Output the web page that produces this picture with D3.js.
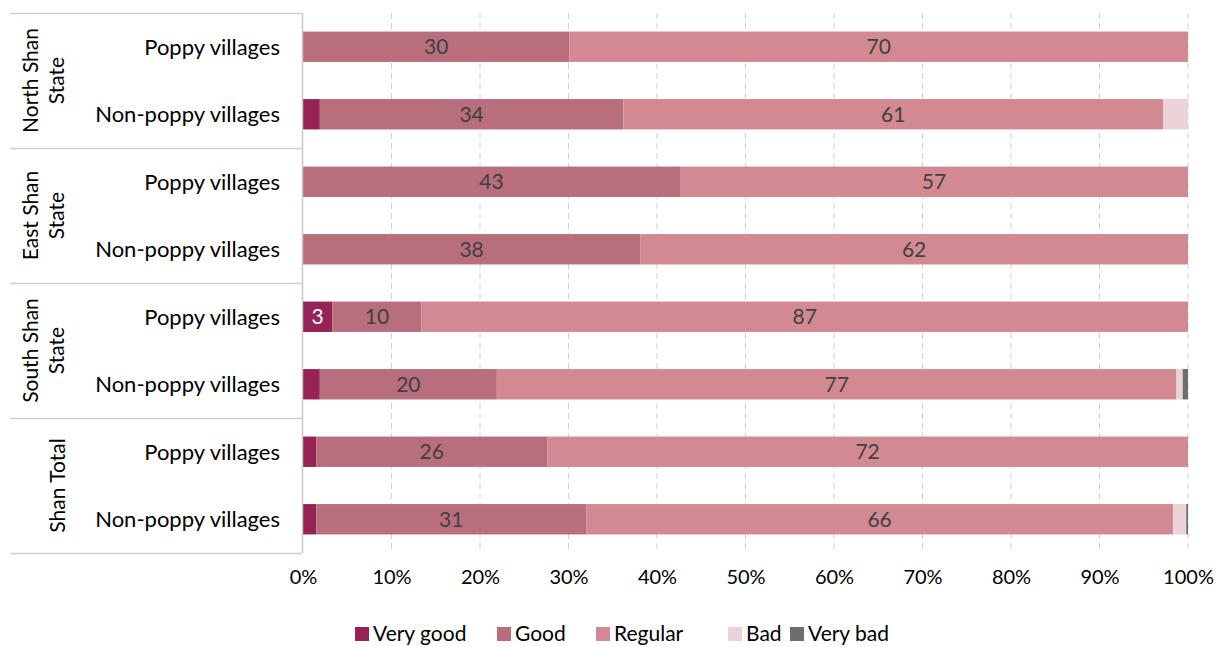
<!DOCTYPE html>
<html><head><meta charset="utf-8">
<script src="https://cdn.jsdelivr.net/npm/d3@7"></script>
<style>body{margin:0;background:#fff;}svg{display:block;font-family:Lato,"Open Sans",sans-serif;}</style>
</head><body><svg id="c" width="1217" height="647"></svg>
<script>
const groups = ["North Shan|State","East Shan|State","South Shan|State","Shan Total"];
const subcats = ["Poppy villages","Non-poppy villages"];
const seriesNames = ["Very good","Good","Regular","Bad","Very bad"];
const colors = ["#952356","#b86e7c","#d38992","#ebd3d8","#6e6e71"];
// rows in order: North poppy, North non-poppy, East poppy, East non, South poppy, South non, Total poppy, Total non
const veryGood = [0, 1.9, 0, 0, 3.3, 1.9, 1.5, 1.5];
const good     = [30.1, 34.3, 42.6, 38.1, 10.1, 20.0, 26.1, 30.5];
const regular  = [69.9, 61.0, 57.4, 61.9, 86.6, 76.8, 72.4, 66.3];
const bad      = [0, 2.8, 0, 0, 0, 0.7, 0, 1.5];
const veryBad  = [0, 0, 0, 0, 0, 0.6, 0, 0.2];
const xTicks = [0,10,20,30,40,50,60,70,80,90,100];

const svg = d3.select("#c");
const x = d3.scaleLinear().domain([0,100]).range([303,1188]);
const rowKeys = d3.range(8);
const y = d3.scaleBand().domain(rowKeys).range([13,553]).paddingInner(0.55).paddingOuter(0.275);
const series = [veryGood, good, regular, bad, veryBad];

// gridlines
svg.append("g").selectAll("line").data(xTicks.filter(d=>d>0)).join("line")
  .attr("x1",d=>x(d)).attr("x2",d=>x(d)).attr("y1",13).attr("y2",553)
  .attr("stroke","#d0d0d0").attr("stroke-width",1).attr("stroke-dasharray","6,4");

// bars
const stacked = rowKeys.map(i=>{
  let acc=0; return series.map((s,k)=>{const v=s[i]; const o={row:i,k,v,x0:acc,x1:acc+v}; acc+=v; return o;});
});
const gb = svg.append("g");
stacked.forEach(row=>{
  gb.selectAll(null).data(row.filter(d=>d.v>0)).join("rect")
    .attr("x",d=>x(d.x0)).attr("width",d=>x(d.x1)-x(d.x0))
    .attr("y",d=>y(d.row)).attr("height",y.bandwidth())
    .attr("fill",d=>colors[d.k]);
  gb.selectAll(null).data(row.filter(d=>d.v>=3)).join("text")
    .attr("x",d=>(x(d.x0)+x(d.x1))/2).attr("y",d=>y(d.row)+y.bandwidth()/2)
    .attr("dy","0.36em").attr("text-anchor","middle").attr("font-size",21)
    .attr("fill",d=>d.k===0?"#ffffff":"#404040").text(d=>Math.round(d.v));
});

// axis line
svg.append("line").attr("x1",302.5).attr("x2",302.5).attr("y1",13).attr("y2",553).attr("stroke","#c8c8c8").attr("stroke-width",1.5);

// x axis tick labels
const xa = d3.axisBottom(x).tickValues(xTicks).tickFormat(d=>d+"%").tickSize(0).tickPadding(0);
const gx = svg.append("g").attr("transform","translate(0,570)").call(xa);
gx.select(".domain").remove();
gx.selectAll("text").attr("font-size",20).attr("fill","#000").attr("font-family","Lato,'Open Sans',sans-serif").attr("dy","0.71em");

// category labels
svg.append("g").selectAll("text").data(rowKeys).join("text")
  .attr("x",280).attr("y",d=>y(d)+y.bandwidth()/2).attr("dy","0.36em")
  .attr("text-anchor","end").attr("font-size",22).attr("fill","#000")
  .text(d=>subcats[d%2]);

// group separators
const sepY = [0,1,2,3,4].map(g=> g<4 ? y(g*2)-y.step()*y.paddingInner()/2 : 553);
sepY[0]=13;
svg.append("g").selectAll("line").data(sepY).join("line")
  .attr("x1",10).attr("x2",302).attr("y1",d=>d+0.5).attr("y2",d=>d+0.5)
  .attr("stroke","#d0d0d0").attr("stroke-width",1.5);

// group labels rotated
groups.forEach((g,i)=>{
  const cy = (sepY[i]+sepY[i+1])/2;
  const lines = g.split("|");
  const t = svg.append("text").attr("font-size",21).attr("fill","#000").attr("text-anchor","middle")
    .attr("transform",`translate(${lines.length===2?30:57},${cy}) rotate(-90)`);
  lines.forEach((l,j)=>t.append("tspan").attr("x",0).attr("dy",j===0?"0.36em":"1.25em").text(l));
});

// legend
const legX = [355,497,596,728,790];
const lg = svg.append("g");
seriesNames.forEach((n,i)=>{
  lg.append("rect").attr("x",legX[i]).attr("y",627).attr("width",14).attr("height",14).attr("fill",colors[i]);
  lg.append("text").attr("x",legX[i]+18).attr("y",633).attr("dy","0.36em").attr("font-size",21).attr("fill","#000").text(n);
});
</script></body></html>
